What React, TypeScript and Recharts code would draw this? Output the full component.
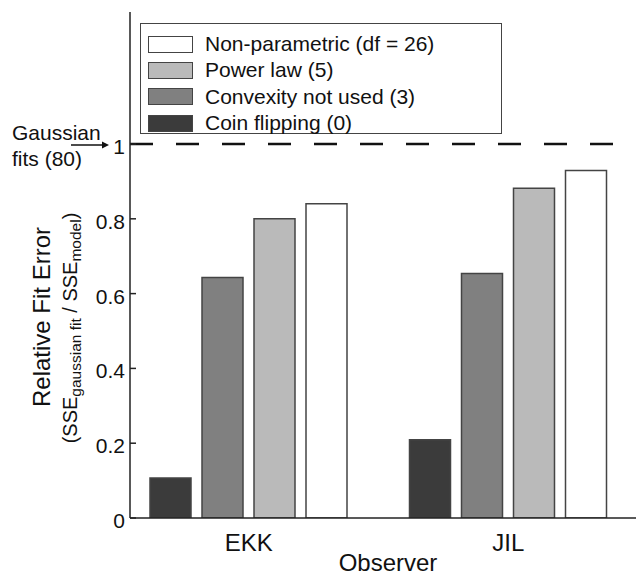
import { BarChart, Bar, XAxis, YAxis, ReferenceLine, Legend } from 'recharts';

const categories = ['EKK', 'JIL'];
const coinFlipping = [0.107, 0.209];
const convexityNotUsed = [0.643, 0.654];
const powerLaw = [0.8, 0.882];
const nonParametric = [0.84, 0.929];
const yTicks = [0, 0.2, 0.4, 0.6, 0.8, 1];

const series = [
  { key: 'coin', name: 'Coin flipping (0)', fill: '#3b3b3b', values: coinFlipping },
  { key: 'convexity', name: 'Convexity not used (3)', fill: '#808080', values: convexityNotUsed },
  { key: 'power', name: 'Power law (5)', fill: '#bababa', values: powerLaw },
  { key: 'nonparam', name: 'Non-parametric (df = 26)', fill: '#ffffff', values: nonParametric },
];

const data = categories.map((observer, i) => {
  const row: Record<string, string | number> = { observer };
  series.forEach((s) => {
    row[s.key] = s.values[i];
  });
  return row;
});

const FONT = '"Liberation Sans", Arial, Helvetica, sans-serif';
const EDGE = '#444';

function YTick(props: any) {
  const { x, y, payload } = props;
  return (
    <g>
      <line x1={x} x2={x + 6} y1={y} y2={y} stroke="#222" strokeWidth={1.5} />
      <text x={x - 5} y={y + 10} textAnchor="end" fontSize={21} fontFamily={FONT} fill="#111">
        {payload.value}
      </text>
    </g>
  );
}

function XTick(props: any) {
  const { x, y, payload } = props;
  return (
    <text x={x} y={y + 25} textAnchor="middle" fontSize={24} fontFamily={FONT} fill="#111">
      {payload.value}
    </text>
  );
}

function YLabel(props: any) {
  const { viewBox } = props;
  const cy = viewBox.y + viewBox.height / 2;
  const mainY = cy + 52;
  const subY = cy + 63;
  return (
    <g fontFamily={FONT} fill="#111">
      <text
        x={50}
        y={mainY}
        transform={`rotate(-90, 50, ${mainY})`}
        textAnchor="middle"
        fontSize={24}
      >
        Relative Fit Error
      </text>
      <text
        x={77}
        y={subY}
        transform={`rotate(-90, 77, ${subY})`}
        textAnchor="middle"
        fontSize={20}
      >
        (SSE
        <tspan fontSize={15.5} dy={4}>gaussian fit</tspan>
        <tspan dy={-4}> / SSE</tspan>
        <tspan fontSize={15.5} dy={4}>model</tspan>
        <tspan dy={-4}>)</tspan>
      </text>
    </g>
  );
}

function XLabel(props: any) {
  const { viewBox } = props;
  return (
    <text
      x={viewBox.x + viewBox.width / 2 + 5}
      y={viewBox.y + 53}
      textAnchor="middle"
      fontSize={24}
      fontFamily={FONT}
      fill="#111"
    >
      Observer
    </text>
  );
}

function GaussianNote(props: any) {
  const { viewBox } = props;
  const ax = viewBox.x;
  const ay = viewBox.y;
  return (
    <g fontFamily={FONT} fill="#111">
      <text x={ax - 118} y={ay - 4} fontSize={21}>Gaussian</text>
      <text x={ax - 118} y={ay + 22} fontSize={21}>fits (80)</text>
      <line x1={ax - 59} x2={ax - 26} y1={ay + 1} y2={ay + 1} stroke="#111" strokeWidth={1.5} />
      <polygon points={`${ax - 21},${ay + 1} ${ax - 28},${ay - 2.5} ${ax - 28},${ay + 4.5}`} fill="#111" />
    </g>
  );
}

function LegendBox() {
  const rows = [...series].reverse();
  return (
    <div
      style={{
        border: `1.5px solid ${EDGE}`,
        background: '#fff',
        boxSizing: 'border-box',
        width: 362,
        height: 111,
        padding: '7px 0 0 7px',
        fontFamily: FONT,
        fontSize: 21,
        color: '#111',
      }}
    >
      {rows.map((s) => (
        <div key={s.key} style={{ display: 'flex', alignItems: 'center', height: 26.3 }}>
          <span
            style={{
              display: 'inline-block',
              width: 45,
              height: 17,
              boxSizing: 'border-box',
              background: s.fill,
              border: `1.5px solid ${EDGE}`,
              marginRight: 12,
            }}
          />
          <span style={{ lineHeight: '26px' }}>{s.name}</span>
        </div>
      ))}
    </div>
  );
}

export default function App() {
  return (
    <div style={{ position: 'absolute', left: 0, top: 0, width: 636, height: 575, background: '#fff' }}>
      <BarChart
        width={636}
        height={575}
        data={data}
        margin={{ top: 12, right: 0, left: 70, bottom: 27 }}
        barSize={41}
        barGap={11}
      >
        <XAxis
          dataKey="observer"
          height={30}
          padding={{ left: -11, right: -2 }}
          axisLine={{ stroke: '#222', strokeWidth: 1.5 }}
          tickLine={false}
          tick={<XTick />}
          label={<XLabel />}
        />
        <YAxis
          width={60}
          domain={[0, 1.353]}
          ticks={yTicks}
          allowDataOverflow
          axisLine={{ stroke: '#222', strokeWidth: 1.5 }}
          tickLine={false}
          tickSize={0}
          tickMargin={0}
          tick={<YTick />}
          label={<YLabel />}
        />
        <ReferenceLine
          y={1}
          stroke="#111"
          strokeWidth={2.5}
          strokeDasharray="23 23"
          label={(p: any) => <GaussianNote {...p} />}
        />
        {series.map((s) => (
          <Bar
            key={s.key}
            dataKey={s.key}
            name={s.name}
            fill={s.fill}
            stroke={EDGE}
            strokeWidth={1.5}
            isAnimationActive={false}
          />
        ))}
        <Legend
          layout="vertical"
          align="center"
          verticalAlign="middle"
          content={<LegendBox />}
          wrapperStyle={{ position: 'absolute', left: 140, top: 23, width: 362, height: 111 }}
        />
      </BarChart>
    </div>
  );
}
